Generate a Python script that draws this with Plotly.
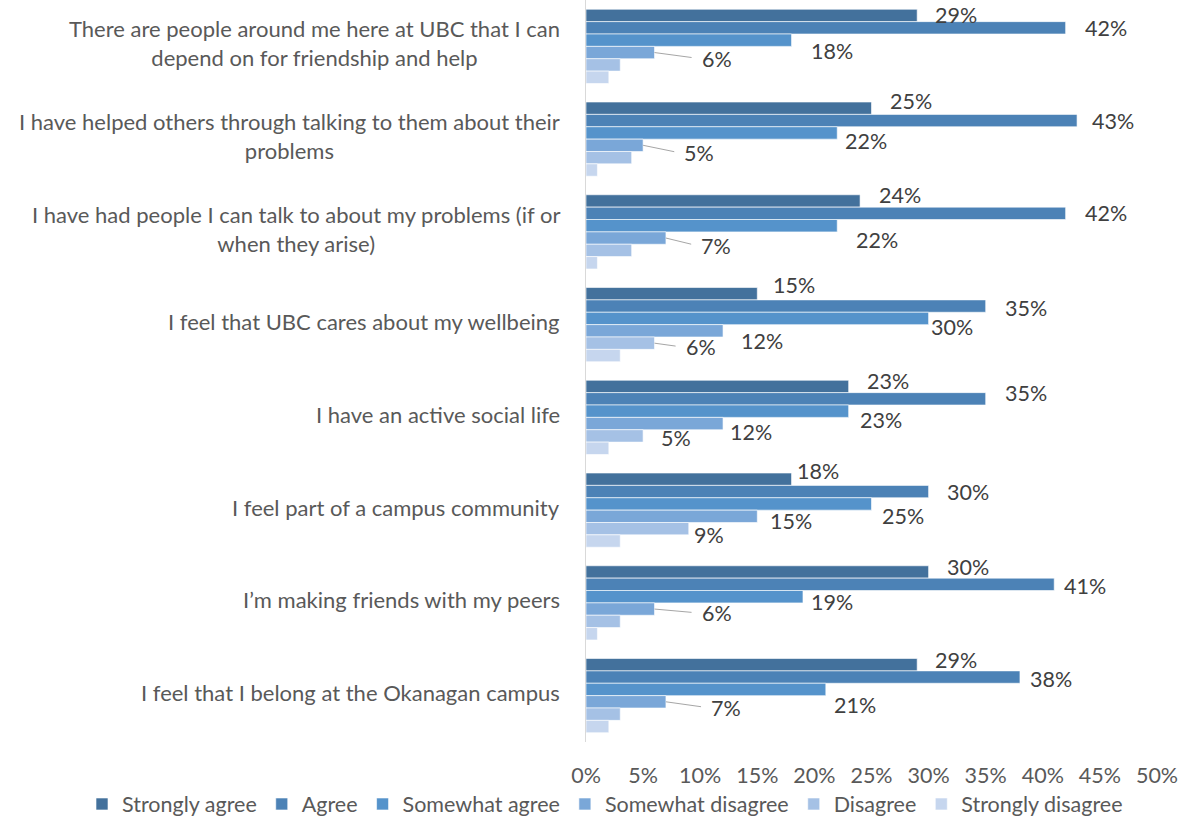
import plotly.graph_objects as go

# Survey statements (top to bottom)
statements = [
    "There are people around me here at UBC that I can<br>depend on for friendship and help",
    "I have helped others through talking to them about their<br>problems",
    "I have had people I can talk to about my problems (if or<br>when they arise)",
    "I feel that UBC cares about my wellbeing",
    "I have an active social life",
    "I feel part of a campus community",
    "I\u2019m making friends with my peers",
    "I feel that I belong at the Okanagan campus",
]

responses = ["Strongly agree", "Agree", "Somewhat agree",
             "Somewhat disagree", "Disagree", "Strongly disagree"]

# Percent of respondents per statement
strongly_agree    = [29, 25, 24, 15, 23, 18, 30, 29]
agree             = [42, 43, 42, 35, 35, 30, 41, 38]
somewhat_agree    = [18, 22, 22, 30, 23, 25, 19, 21]
somewhat_disagree = [6, 5, 7, 12, 12, 15, 6, 7]
disagree          = [3, 4, 4, 6, 5, 9, 3, 3]
strongly_disagree = [2, 1, 1, 3, 2, 3, 1, 2]

series = [strongly_agree, agree, somewhat_agree,
          somewhat_disagree, disagree, strongly_disagree]

# Axis ticks
tick_values = [0, 5, 10, 15, 20, 25, 30, 35, 40, 45, 50]
tick_labels = ["0%", "5%", "10%", "15%", "20%", "25%",
               "30%", "35%", "40%", "45%", "50%"]

colors = ["#43719C", "#4C82B6", "#5593CB", "#7AA7D8", "#A5C1E5", "#C6D6EE"]

# Only values of 5% and above carry a data label
LABEL_MIN = 5

# Label nudges in pixels: (gap right of bar end, downward shift), plus leader flag
label_nudge = {
    (0, 0): (16, 0), (0, 1): (17, 0), (0, 2): (17, 11), (0, 3): (45, 6, True),
    (1, 0): (16, -7), (1, 1): (13, 0), (1, 2): (6, 8), (1, 3): (39, 8, True),
    (2, 0): (17, -6), (2, 1): (17, 0), (2, 2): (17, 14), (2, 3): (33, 8, True),
    (3, 0): (14, -9), (3, 1): (17, 2), (3, 2): (0, 9), (3, 3): (16, 10), (3, 4): (29, 4, True),
    (4, 0): (16, -5), (4, 1): (17, -6), (4, 2): (9, 9), (4, 3): (5, 8), (4, 4): (16, 2),
    (5, 0): (3, -8), (5, 1): (16, 0), (5, 2): (8, 12), (5, 3): (11, 5), (5, 4): (3, 6),
    (6, 0): (16, -5), (6, 1): (8, 2), (6, 2): (6, 5), (6, 3): (45, 4, True),
    (7, 0): (16, -5), (7, 1): (8, 2), (7, 2): (6, 16), (7, 3): (43, 6, True),
}

FONT = "Lato"
CAT_SIZE = 22
LABEL_SIZE = 21.5
TICK_SIZE = 21.5
LEGEND_SIZE = 21.5
TEXT = "#595959"
LABEL = "#404040"

WIDTH, HEIGHT = 1179, 820
MARGIN = dict(l=586, r=22, t=0, b=78)
plot_w = WIDTH - MARGIN["l"] - MARGIN["r"]
plot_h = HEIGHT - MARGIN["t"] - MARGIN["b"]

BARGAP = 0.2
n_series = len(series)
group_w = 1 - BARGAP
bar_w = group_w / n_series

positions = list(range(len(statements)))

fig = go.Figure()
for name, vals, col in zip(responses, series, colors):
    fig.add_trace(go.Bar(
        y=positions, x=vals, name=name, orientation="h",
        marker=dict(color=col, line=dict(color="rgba(255,255,255,0.6)", width=1)),
        hoverinfo="x+name",
    ))

annotations = []
# Statement labels on the left of the axis
for i, s in enumerate(statements):
    annotations.append(dict(
        xref="paper", yref="y", x=0, y=i, text=s, showarrow=False,
        xanchor="right", yanchor="middle", align="center",
        xshift=-24, yshift=3,
        font=dict(family=FONT, size=CAT_SIZE, color=TEXT),
    ))

# Data labels
for k, vals in enumerate(series):
    for i, v in enumerate(vals):
        if v < LABEL_MIN:
            continue
        nudge = label_nudge.get((i, k), (16, 0))
        dx, dy = nudge[0], nudge[1]
        leader = len(nudge) > 2 and nudge[2]
        yc = i - group_w / 2 + bar_w * (k + 0.5)
        if leader:
            annotations.append(dict(
                x=v, y=yc, xref="x", yref="y", text=f"{v}%",
                showarrow=True, arrowhead=0, arrowwidth=1, arrowcolor="#A6A6A6",
                ax=dx, ay=dy, xanchor="left", yanchor="middle",
                standoff=0, startstandoff=8,
                font=dict(family=FONT, size=LABEL_SIZE, color=LABEL),
            ))
        else:
            annotations.append(dict(
                x=v, y=yc, xref="x", yref="y", text=f"{v}%",
                showarrow=False, xanchor="left", yanchor="middle",
                xshift=dx, yshift=-dy,
                font=dict(family=FONT, size=LABEL_SIZE, color=LABEL),
            ))

# Legend sits in the bottom margin, starting near the left edge of the figure
legend_left_px = 82
legend_mid_px = 804

fig.update_layout(
    width=WIDTH, height=HEIGHT,
    margin=dict(**MARGIN, autoexpand=False),
    paper_bgcolor="white", plot_bgcolor="white",
    barmode="group", bargap=BARGAP, bargroupgap=0,
    font=dict(family=FONT, size=LABEL_SIZE, color=TEXT),
    annotations=annotations,
    legend=dict(
        orientation="h", xref="paper", yref="paper",
        x=(legend_left_px - MARGIN["l"]) / plot_w,
        y=-(legend_mid_px - (HEIGHT - MARGIN["b"])) / plot_h,
        xanchor="left", yanchor="middle",
        font=dict(family=FONT, size=LEGEND_SIZE, color=TEXT),
        itemwidth=30, tracegroupgap=0,
    ),
    xaxis=dict(
        range=[0, 50], tickmode="array", tickvals=tick_values, ticktext=tick_labels,
        showgrid=False, zeroline=False, showline=False, ticks="",
        ticklabelstandoff=18,
        tickfont=dict(family=FONT, size=TICK_SIZE, color=TEXT),
    ),
    yaxis=dict(
        range=[len(statements) - 0.5, -0.5], showticklabels=False,
        showgrid=False, zeroline=False, showline=True,
        linecolor="#D9D9D9", linewidth=1, ticks="",
    ),
)

fig.write_html("out.html")
